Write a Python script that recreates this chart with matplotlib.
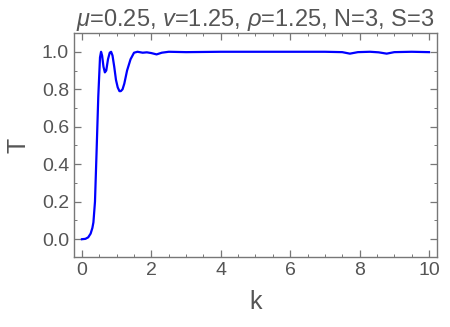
import matplotlib
matplotlib.use("Agg")
import matplotlib.pyplot as plt  # noqa: E402
from matplotlib.ticker import MultipleLocator  # noqa: E402

# transmission T vs k
k_vals = [0, 0.1, 0.18, 0.25, 0.3, 0.33, 0.375, 0.42, 0.47, 0.52, 0.55, 0.58,
          0.62, 0.66, 0.7, 0.75, 0.8, 0.84, 0.88, 0.93, 0.98, 1.03, 1.08, 1.12,
          1.17, 1.22, 1.3, 1.4, 1.5, 1.6, 1.75, 1.87, 2.0, 2.15, 2.3, 2.5, 3.0,
          3.5, 4, 5, 6, 7, 7.5, 7.72, 7.95, 8.3, 8.55, 8.78, 9.0, 9.5, 10]
T_vals = [0, 0.002, 0.01, 0.03, 0.06, 0.09, 0.2, 0.46, 0.76, 0.97, 1.0, 0.98,
          0.92, 0.89, 0.9, 0.96, 0.995, 1.0, 0.98, 0.92, 0.85, 0.81, 0.79, 0.79,
          0.8, 0.83, 0.9, 0.96, 0.995, 1.0, 0.995, 0.997, 0.993, 0.986, 0.995,
          1.0, 0.998, 0.999, 1.0, 1.0, 1.0, 1.0, 0.998, 0.99, 0.998, 1.0, 0.997,
          0.99, 0.998, 1.0, 0.998]

GRAY = "#555555"
FRAME = "#777777"

plt.rcParams["font.family"] = ["Liberation Sans", "DejaVu Sans"]
plt.rcParams["mathtext.fontset"] = "custom"
plt.rcParams["mathtext.rm"] = "Liberation Sans"
plt.rcParams["mathtext.it"] = "Liberation Sans:italic"

fig = plt.figure(figsize=(4.5, 3.27), dpi=100)
ax = fig.add_axes([0.1644, 0.214, 0.8067, 0.685])
ax.plot(k_vals, T_vals, color="#0000ff", lw=1.6)

ax.set_xlim(-0.23, 10.23)
ax.set_ylim(-0.095, 1.1)
ax.xaxis.set_major_locator(MultipleLocator(2))
ax.xaxis.set_minor_locator(MultipleLocator(0.5))
ax.yaxis.set_major_locator(MultipleLocator(0.2))
ax.yaxis.set_minor_locator(MultipleLocator(0.1))
ax.xaxis.set_major_formatter(lambda v, p: f"{v:.0f}")
ax.yaxis.set_major_formatter(lambda v, p: f"{v:.1f}")
ax.tick_params(which="both", direction="in", top=True, right=True,
               color=FRAME, labelcolor=GRAY, labelsize=14)
ax.tick_params(which="major", length=5, width=0.9)
ax.tick_params(which="minor", length=2.5, width=0.7)
for s in ax.spines.values():
    s.set_color(FRAME)
    s.set_linewidth(1.0)

ax.set_xlabel("k", color=GRAY, fontsize=18, labelpad=8)
ax.set_ylabel("T", color=GRAY, fontsize=18, labelpad=8)
ax.set_title(r"$\mu$=0.25, $v$=1.25, $\rho$=1.25, N=3, S=3",
             color=GRAY, fontsize=17, pad=5)

fig.savefig("out.png", dpi=100)
